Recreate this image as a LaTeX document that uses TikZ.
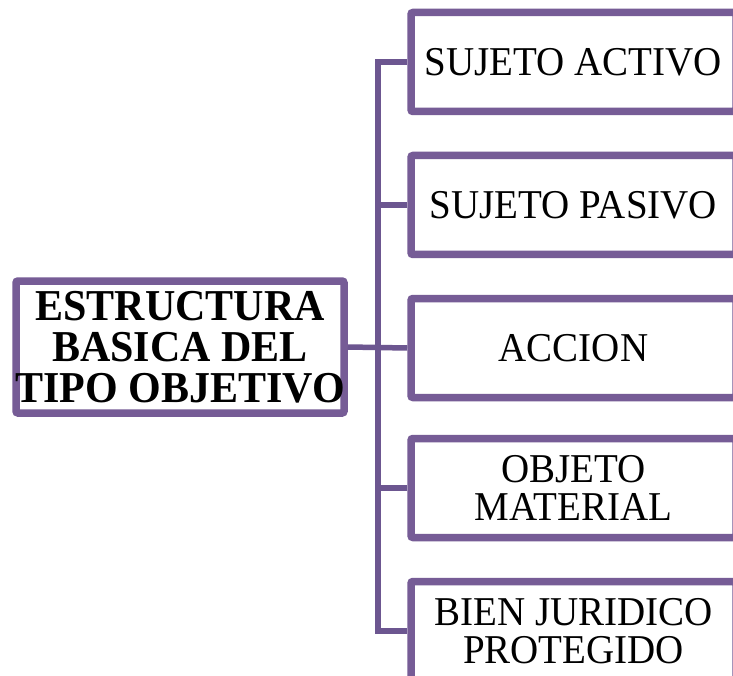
\documentclass[tikz,border=0pt]{standalone}
\usepackage{fontspec}
\setmainfont{Liberation Serif}
\usetikzlibrary{shadows}
\definecolor{purp}{RGB}{118,92,150}
\definecolor{conn}{RGB}{108,86,144}
\newcommand{\rtxt}[1]{\makebox[0pt][c]{\scalebox{1}[1.05]{\fontsize{39}{36}\selectfont\vbox{\baselineskip=36pt\lineskiplimit=-100pt\lineskip=0pt\halign{\hfil##\hfil\cr#1\crcr}}}}}
\newcommand{\btxt}[1]{\makebox[0pt][c]{\scalebox{1}[1.05]{\fontsize{42}{39}\selectfont\bfseries\vbox{\baselineskip=39pt\lineskiplimit=-100pt\lineskip=0pt\halign{\hfil##\hfil\cr#1\crcr}}}}}
\tikzset{
  box/.style={draw=purp, line width=7.5pt, fill=white, rounded corners=2pt,
    inner sep=0pt, minimum width=325pt, minimum height=99pt,
    drop shadow={shadow xshift=1pt, shadow yshift=-3pt, opacity=0.25}},
  mainbox/.style={box, minimum width=328pt, minimum height=132pt},
  link/.style={draw=conn, line width=5.5pt}
}
\begin{document}
\begin{tikzpicture}[x=1pt, y=-1pt]
\useasboundingbox (0,0) rectangle (733,676);
\clip (0,0) rectangle (733,676);
\fill[white] (0,0) rectangle (733,676);
\coordinate (bus) at (378,347);
\node[mainbox] (L) at (180,347) {\btxt{ESTRUCTURA\cr BASICA DEL\cr TIPO OBJETIVO}};
\node[box] (b1) at (573.5,62) {\rtxt{SUJETO ACTIVO}};
\node[box] (b2) at (573.5,205) {\rtxt{SUJETO PASIVO}};
\node[box] (b3) at (573.5,348) {\rtxt{ACCION}};
\node[box] (b4) at (573.5,488) {\rtxt{OBJETO\cr MATERIAL}};
\node[box] (b5) at (573.5,631) {\rtxt{BIEN JURIDICO\cr PROTEGIDO}};
\draw[link] (b1.west) -| (bus) |- (b5.west);
\draw[link] (b2.west) -| (bus);
\draw[link] (b4.west) -| (bus);
\draw[link] (L.east) -- (b3.west);
\end{tikzpicture}
\end{document}
